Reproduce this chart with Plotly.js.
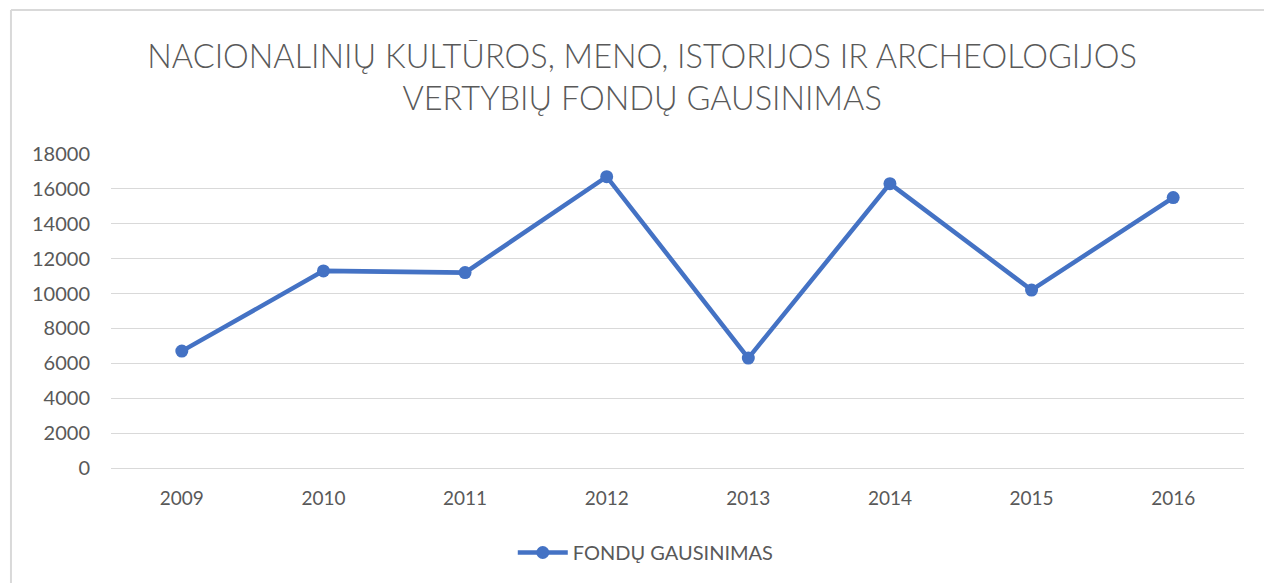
<!DOCTYPE html>
<html>
<head>
<meta charset="utf-8">
<script src="https://cdn.plot.ly/plotly-3.0.1.min.js"></script>
<style>html,body{margin:0;padding:0;background:#fff;}#chart{width:1264px;height:583px;}</style>
</head>
<body>
<div id="chart"></div>
<script>
const years = ['2009','2010','2011','2012','2013','2014','2015','2016'];
const values = [6700, 11300, 11200, 16700, 6300, 16300, 10200, 15500];
const seriesName = 'FONDŲ GAUSINIMAS';
const yTicks = [0,2000,4000,6000,8000,10000,12000,14000,16000,18000];

const trace = {
  x: years, y: values, type: 'scatter', mode: 'lines+markers', name: seriesName,
  line: {color: '#4472C4', width: 4.5},
  marker: {color: '#4472C4', size: 13},
  showlegend: true
};

const layout = {
  width: 1264, height: 583,
  margin: {l: 111, r: 20, t: 154, b: 114},
  paper_bgcolor: '#fff', plot_bgcolor: '#fff',
  font: {family: 'Lato, sans-serif', color: '#595959'},
  title: {
    text: 'NACIONALINIŲ KULTŪROS, MENO, ISTORIJOS IR ARCHEOLOGIJOS<br>VERTYBIŲ FONDŲ GAUSINIMAS',
    font: {family: 'Lato, sans-serif', size: 32.5, color: '#595959', weight: 300},
    x: 0.508, xanchor: 'center', y: 0.884, yanchor: 'middle'
  },
  xaxis: {
    type: 'category', range: [-0.5, 7.5], showgrid: false, zeroline: false,
    showline: true, linecolor: '#d9d9d9', linewidth: 1,
    ticks: '', tickfont: {size: 19, color: '#595959'}, ticklabelstandoff: 13
  },
  yaxis: {
    range: [0, 18000], tickvals: yTicks, ticktext: yTicks.map(String),
    showgrid: true, gridcolor: '#d9d9d9', gridwidth: 1,
    zeroline: false, showline: false, ticks: '',
    tickfont: {size: 20, color: '#595959'}, ticklabelstandoff: 20
  },
  legend: {
    orientation: 'h', x: 0.472, xanchor: 'center', y: -0.265, yanchor: 'middle',
    font: {size: 20, color: '#595959'}, itemwidth: 50
  },
  shapes: [
    {type: 'line', xref: 'paper', yref: 'paper', x0: -0.0883, x1: 1.02, y0: 1.4587, y1: 1.4587, line: {color: '#d9d9d9', width: 2}},
    {type: 'line', xref: 'paper', yref: 'paper', x0: -0.0883, x1: -0.0883, y0: 1.4587, y1: -0.37, line: {color: '#d9d9d9', width: 2}}
  ]
};

Plotly.newPlot('chart', [trace], layout, {displayModeBar: false, responsive: false});
</script>
</body>
</html>
